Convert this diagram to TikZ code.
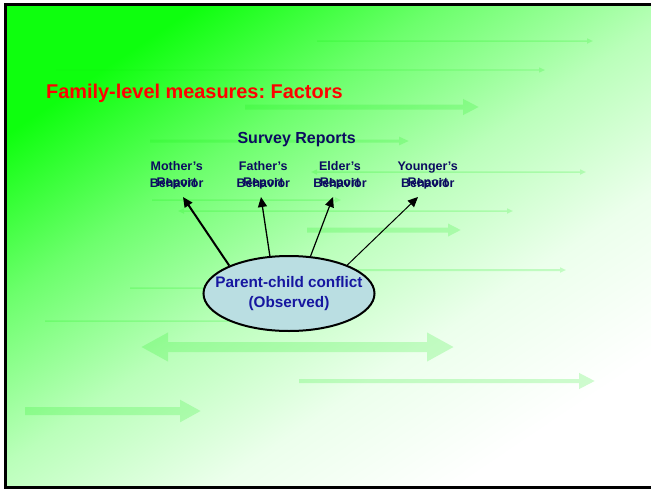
\documentclass[tikz,border=0pt]{standalone}
\usepackage{fontspec}
\setmainfont{Liberation Sans}
\usepackage{xcolor}
\usetikzlibrary{shapes.geometric,arrows.meta}
\definecolor{navy}{RGB}{12,12,96}
\definecolor{ellfill}{RGB}{186,222,226}
\definecolor{elltextcol}{RGB}{22,22,160}
\definecolor{slidegreen}{RGB}{14,255,14}
\definecolor{slideA}{RGB}{108,255,108}
\definecolor{slideB}{RGB}{186,255,186}
\definecolor{slideC}{RGB}{236,255,236}
\definecolor{bggreen}{RGB}{20,235,20}
\pgfdeclareverticalshading{slidebg}{100bp}{color(0bp)=(white); color(25bp)=(white); color(37.5bp)=(slideC); color(50bp)=(slideB); color(62.5bp)=(slideA); color(75bp)=(slidegreen); color(100bp)=(slidegreen)}
\tikzset{lab/.style={font=\fontsize{12.5}{17}\selectfont\bfseries,text=navy,align=center,inner sep=0pt}}
\tikzset{rep/.style={font=\fontsize{12.5}{17}\selectfont\bfseries,text=navy,inner sep=0pt,anchor=base}}
\tikzset{ell/.style={ellipse,draw,line width=2pt,fill=ellfill,minimum width=171pt,minimum height=75pt,inner sep=0pt}}
\tikzset{elltext/.style={align=center,inner sep=0pt,text=elltextcol,font=\fontsize{15.3}{19.3}\selectfont\bfseries}}
\tikzset{faint/.style={draw=bggreen}}
\frenchspacing

\begin{document}
\begin{tikzpicture}[x=1pt,y=-1pt,>={Triangle[length=10pt,width=9pt]}]
    \useasboundingbox (0,0) rectangle (651,490);
    \fill[white] (0,0) rectangle (651,490);
    \shade[shading=slidebg,shading angle=34] (6,5) rectangle (651,487);
    \draw[line width=2.5pt] (651,4.5) -- (5.5,4.5) -- (5.5,487.5) -- (651,487.5);

    \begin{scope}[transparency group,opacity=0.2]
    \draw[faint,line width=1.5pt,-{Triangle[length=6pt,width=5pt]}] (317,41) -- (593,41);
    \draw[faint,line width=1.2pt,-{Triangle[length=6pt,width=5pt]}] (56,70) -- (545,70);
    \draw[faint,line width=5pt,-{Triangle[length=16pt,width=15pt]}] (245,107) -- (479,107);
    \draw[faint,line width=3pt,-{Triangle[length=10pt,width=8pt]}] (150,141) -- (409,141);
    \draw[faint,line width=1.5pt,{Triangle[length=6pt,width=5pt]}-{Triangle[length=6pt,width=5pt]}] (311,172) -- (586,172);
    \draw[faint,line width=1.5pt,-{Triangle[length=6pt,width=5pt]}] (152,200) -- (341,200);
    \draw[faint,line width=1.5pt,{Triangle[length=6pt,width=5pt]}-{Triangle[length=6pt,width=5pt]}] (178,211) -- (513,211);
    \draw[faint,line width=5pt,-{Triangle[length=13pt,width=12pt]}] (307,230) -- (461,230);
    \draw[faint,line width=2pt,-{Triangle[length=6pt,width=5pt]}] (300,270) -- (566,270);
    \draw[faint,line width=1.5pt] (130,288) -- (260,288);
    \draw[faint,line width=1.5pt] (45,321) -- (260,321);
    \draw[faint,line width=10pt,{Triangle[length=27pt,width=27pt]}-{Triangle[length=27pt,width=27pt]}] (141,347) -- (454,347);
    \draw[faint,line width=4pt,-{Triangle[length=16pt,width=15pt]}] (299,381) -- (595,381);
    \draw[faint,line width=8pt,-{Triangle[length=21pt,width=21pt]}] (25,411) -- (201,411);
    \end{scope}

    \node[font=\fontsize{19.9}{22}\selectfont\bfseries,text=red,anchor=base west,inner sep=0pt] (title) at (46,98.3) {Family-level measures: Factors};
    \node[font=\fontsize{16}{19}\selectfont\bfseries,text=navy,anchor=base,inner sep=0pt] (survey) at (296.7,143) {Survey Reports};

    \node[lab] (mo) at (176.7,174.7) {Mother’s\\Behavior};
    \node[lab] (fa) at (263.3,174.7) {Father’s\\Behavior};
    \node[lab] (el) at (340,174.7) {Elder’s\\Behavior};
    \node[lab] (yo) at (427.8,174.7) {Younger’s\\Behavior};
    \node[rep] (moR) at (176.7,186.3) {Report};
    \node[rep] (faR) at (263.3,186.3) {Report};
    \node[rep] (elR) at (340,186.3) {Report};
    \node[rep] (yoR) at (427.8,186.3) {Report};

    \node[ell] (pc) at (289,293.5) {};
    \node[elltext] (pcText) at (pc) {Parent-child conflict\\(Observed)};

    \coordinate (moTip) at (183,197);
    \coordinate (faTip) at (261,197);
    \coordinate (elTip) at (333,197);
    \coordinate (yoTip) at (418,197);

    \draw[->,line width=2pt] (pc.155) -- (moTip);
    \draw[->,line width=1.3pt] (pc.117) -- (faTip);
    \draw[->,line width=1.2pt] (pc.60) -- (elTip);
    \draw[->,line width=1pt] (pc.26) -- (yoTip);
\end{tikzpicture}
\end{document}
